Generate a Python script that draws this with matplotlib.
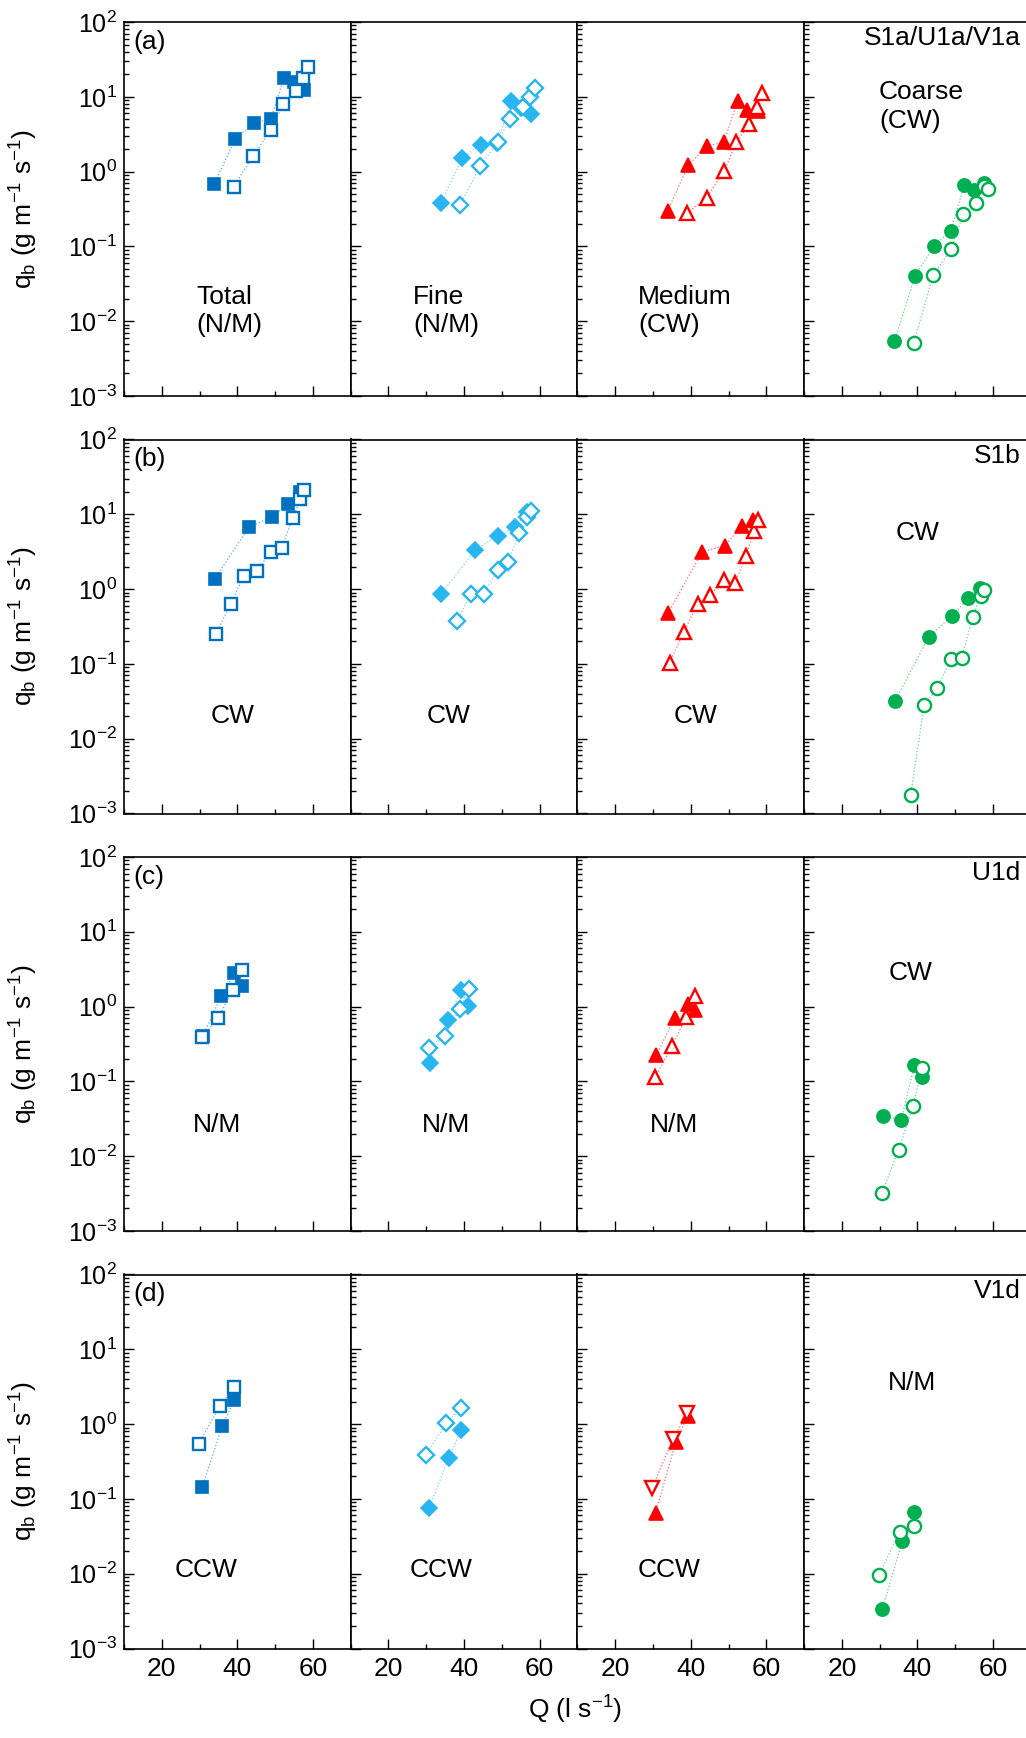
import matplotlib
matplotlib.use('Agg')
import numpy as np
import matplotlib.pyplot as plt
from matplotlib.ticker import MultipleLocator, LogLocator, NullFormatter

plt.rcParams['font.family'] = ['Liberation Sans', 'DejaVu Sans']
plt.rcParams['mathtext.fontset'] = 'custom'
plt.rcParams['mathtext.rm'] = 'Liberation Sans'
plt.rcParams['mathtext.it'] = 'Liberation Sans:italic'
plt.rcParams['axes.unicode_minus'] = False

nan = np.nan

# ---- row (a): S1a/U1a/V1a ----
q_a_fill = [33.9, 39.4, 44.4, 48.8, 52.4, 55.0, 57.7]
q_a_open = [39.0, 44.2, 48.9, 52.1, 55.5, 57.5, 58.8]
total_a_fill = [0.68, 2.74, 4.5, 5.0, 18.1, 16.0, 12.4]
total_a_open = [0.63, 1.64, 3.58, 7.9, 11.9, 18.1, 24.7]
fine_a_fill = [0.38, 1.51, 2.3, 2.4, 8.8, 7.0, 5.9]
fine_a_open = [0.36, 1.17, 2.48, 5.1, 7.2, 9.9, 13.3]
medium_a_fill = [0.30, 1.23, 2.2, 2.48, 8.9, 6.7, 6.4]
medium_a_open = [0.28, 0.45, 1.02, 2.5, 4.3, 7.4, 11.2]
coarse_a_fill = [0.0054, 0.0406, 0.102, 0.162, 0.66, 0.57, 0.70]
coarse_a_open = [0.0051, 0.0414, 0.092, 0.27, 0.38, 0.65, 0.59]

# ---- row (b): S1b ----
q_b_fill = [34.0, 43.0, 49.1, 53.5, 56.6]
q_b_open = [34.4, 38.2, 41.8, 45.2, 48.9, 51.7, 54.6, 56.7, 57.7]
total_b_fill = [1.36, 6.67, 9.2, 13.7, 19.7]
total_b_open = [0.254, 0.64, 1.50, 1.74, 3.18, 3.57, 8.8, 16.0, 21.0]
fine_b_fill = [0.87, 3.35, 5.2, 6.67, 10.6]
fine_b_open = [nan, 0.375, 0.87, 0.87, 1.79, 2.32, 5.6, 9.3, 11.2]
medium_b_fill = [0.475, 3.15, 3.8, 7.0, 8.4]
medium_b_open = [0.104, 0.27, 0.63, 0.835, 1.33, 1.20, 2.73, 6.0, 8.3]
coarse_b_fill = [0.0317, 0.229, 0.438, 0.755, 1.05]
coarse_b_open = [nan, 0.00178, 0.028, 0.047, 0.117, 0.12, 0.42, 0.81, 0.97]

# ---- row (c): U1d ----
q_c_fill = [30.9, 35.7, 39.2, 41.1]
q_c_open = [30.6, 35.0, 38.8, 41.2]
total_c_fill = [0.41, 1.37, 2.85, 1.87]
total_c_open = [0.39, 0.71, 1.69, 3.12]
fine_c_fill = [0.177, 0.667, 1.65, 1.02]
fine_c_open = [0.28, 0.41, 0.92, 1.70]
medium_c_fill = [0.222, 0.71, 1.09, 0.89]
medium_c_open = [0.113, 0.296, 0.72, 1.38]
coarse_c_fill = [0.0348, 0.0305, 0.166, 0.116]
coarse_c_open = [0.0032, 0.0121, 0.0464, 0.152]

# ---- row (d): V1d ----
q_d_fill = [30.7, 36.0, 39.2]
q_d_open = [29.8, 35.3, 39.1]
total_d_fill = [0.144, 0.94, 2.10]
total_d_open = [0.55, 1.73, 3.17]
fine_d_fill = [0.0745, 0.357, 0.83]
fine_d_open = [0.387, 1.02, 1.63]
medium_d_fill = [0.065, 0.57, 1.29]
medium_d_open = [0.141, 0.63, 1.39]
coarse_d_fill = [0.00336, 0.0277, 0.0666]
coarse_d_open = [0.0095, 0.0363, 0.044]

rows = [
    (q_a_fill, q_a_open, [total_a_fill, fine_a_fill, medium_a_fill, coarse_a_fill],
     [total_a_open, fine_a_open, medium_a_open, coarse_a_open]),
    (q_b_fill, q_b_open, [total_b_fill, fine_b_fill, medium_b_fill, coarse_b_fill],
     [total_b_open, fine_b_open, medium_b_open, coarse_b_open]),
    (q_c_fill, q_c_open, [total_c_fill, fine_c_fill, medium_c_fill, coarse_c_fill],
     [total_c_open, fine_c_open, medium_c_open, coarse_c_open]),
    (q_d_fill, q_d_open, [total_d_fill, fine_d_fill, medium_d_fill, coarse_d_fill],
     [total_d_open, fine_d_open, medium_d_open, coarse_d_open]),
]

colors = ['#0070C0', '#29B5EF', '#FF0000', '#00B050']
markers = ['s', 'D', '^', 'o']
msizes = [9, 8, 10.5, 9.5]

row_letters = ['(a)', '(b)', '(c)', '(d)']
row_tags = ['S1a/U1a/V1a', 'S1b', 'U1d', 'V1d']
# (text, x, y) in axes fraction, per row and column
notes = [
    [('Total\n(N/M)', 0.32, 0.227), ('Fine\n(N/M)', 0.275, 0.227),
     ('Medium\n(CW)', 0.267, 0.227), ('Coarse\n(CW)', 0.33, 0.774)],
    [('CW', 0.38, 0.262), ('CW', 0.337, 0.262), ('CW', 0.426, 0.262), ('CW', 0.405, 0.749)],
    [('N/M', 0.304, 0.283), ('N/M', 0.313, 0.283), ('N/M', 0.32, 0.283), ('CW', 0.371, 0.69)],
    [('CCW', 0.225, 0.209), ('CCW', 0.262, 0.209), ('CCW', 0.267, 0.209), ('N/M', 0.37, 0.709)],
]

W, H = 1026, 1738
left0, pw, ph = 124, 226.7, 374
tops = [22, 439.5, 857, 1274.5]

fig = plt.figure(figsize=(W / 100, H / 100), dpi=100)

for r, (qf, qo, fills, opens) in enumerate(rows):
    for k in range(4):
        ax = fig.add_axes([(left0 + k * pw) / W, 1 - (tops[r] + ph) / H, pw / W, ph / H])
        col = colors[k]
        mk_open = 'v' if (r == 3 and k == 2) else markers[k]
        # thin dotted connectors, lighter than the markers
        ax.plot(qf, fills[k], linestyle=':', lw=0.9, color=col, alpha=0.6, zorder=2)
        ax.plot(qo, opens[k], linestyle=':', lw=0.9, color=col, alpha=0.6, zorder=2)
        ax.plot(qf, fills[k], linestyle='none', marker=markers[k], ms=msizes[k],
                mfc=col, mec=col, mew=1.2, zorder=3)
        ax.plot(qo, opens[k], linestyle='none', marker=mk_open, ms=msizes[k],
                mfc='white', mec=col, mew=1.7, zorder=4)

        ax.set_xlim(10, 70)
        ax.set_yscale('log')
        ax.set_ylim(1e-3, 1e2)
        ax.xaxis.set_major_locator(MultipleLocator(20))
        ax.xaxis.set_minor_locator(MultipleLocator(10))
        ax.yaxis.set_major_locator(LogLocator(base=10, numticks=10))
        ax.yaxis.set_minor_locator(LogLocator(base=10, subs=np.arange(2, 10), numticks=20))
        ax.yaxis.set_minor_formatter(NullFormatter())
        ax.tick_params(which='both', direction='in', top=False, right=False, width=1.0)
        ax.tick_params(which='major', length=7)
        ax.tick_params(which='minor', length=3.5)
        ax.tick_params(axis='y', labelsize=18, pad=5)
        ax.tick_params(axis='x', labelsize=19, pad=6)
        for s in ax.spines.values():
            s.set_linewidth(1.2)

        if k > 0:
            ax.tick_params(axis='y', labelleft=False)
        else:
            ax.set_ylabel(r'q$_\mathregular{b}$ (g m$^\mathregular{-1}$ s$^\mathregular{-1}$)', fontsize=19)
            ax.yaxis.set_label_coords(-0.37, 0.5)
            ax.text(0.04, 0.947, row_letters[r], transform=ax.transAxes,
                    ha='left', va='center', fontsize=19)
        if r < 3:
            ax.tick_params(axis='x', labelbottom=False)
        if k == 3:
            ax.text(0.955, 0.957, row_tags[r], transform=ax.transAxes,
                    ha='right', va='center', fontsize=19)

        txt, tx, ty = notes[r][k]
        ax.text(tx, ty, txt, transform=ax.transAxes, ha='left', va='center',
                fontsize=19, linespacing=1.25)

fig.text(575 / W, 1 - 1710 / H, r'Q (l s$^\mathregular{-1}$)', ha='center', va='center', fontsize=19)

fig.savefig('out.png', dpi=100)
